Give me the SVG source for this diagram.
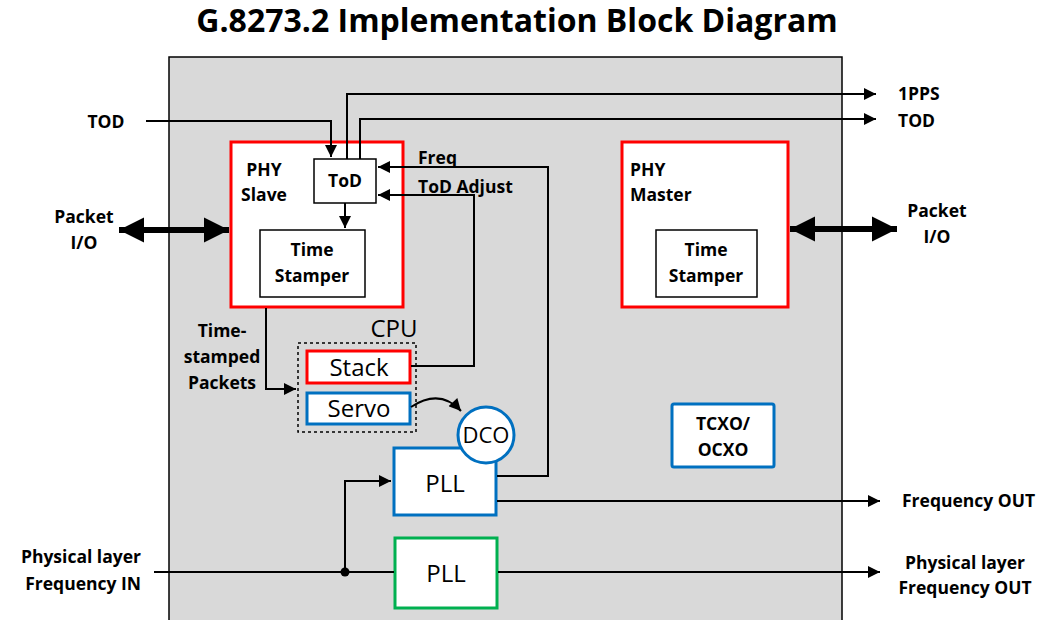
<svg xmlns="http://www.w3.org/2000/svg" width="1063" height="620" viewBox="0 0 1063 620">
<style>
.lbl{font-family:"Open Sans","Liberation Sans",sans-serif;font-weight:bold;font-size:17.5px;fill:#000}
.reg{font-family:"Open Sans","Liberation Sans",sans-serif;font-size:24px;fill:#000}
.ln{fill:none;stroke:#000;stroke-width:2}
.thick{fill:none;stroke:#000;stroke-width:6}
.red{fill:#fff;stroke:#ff0000;stroke-width:3}
.blue{fill:#fff;stroke:#0070c0;stroke-width:3}
.green{fill:#fff;stroke:#00b050;stroke-width:3}
.blk{fill:#fff;stroke:#000;stroke-width:1.5}
</style>
<defs>
<marker id="ah" viewBox="0 0 10 10" refX="10" refY="5" markerWidth="7.5" markerHeight="6" markerUnits="strokeWidth" orient="auto"><path d="M0,0 L10,5 L0,10 z" fill="#000"/></marker>
<marker id="big" viewBox="0 0 10 10" refX="10" refY="5" markerWidth="4.2" markerHeight="4.2" markerUnits="strokeWidth" orient="auto-start-reverse"><path d="M0,0 L10,5 L0,10 z" fill="#000"/></marker>
</defs>
<rect width="1063" height="620" fill="#fff"/>
<text x="517" y="32" text-anchor="middle" style="font-family:'Open Sans','Liberation Sans',sans-serif;font-weight:bold;font-size:32px">G.8273.2 Implementation Block Diagram</text>
<g id="chassis"><rect x="169" y="57" width="673" height="570" fill="#d9d9d9" stroke="#000" stroke-width="1.5"/></g>

<g id="phy-slave">
<rect class="red" x="231" y="142" width="172" height="165"/>
<text class="lbl" x="264" y="176" text-anchor="middle">PHY</text>
<text class="lbl" x="264" y="201" text-anchor="middle">Slave</text>
</g>
<g id="tod-block">
<rect class="blk" x="314" y="159" width="62" height="44"/>
<text class="lbl" x="345" y="187" text-anchor="middle">ToD</text>
</g>
<g id="ts-slave">
<rect class="blk" x="260" y="230" width="105" height="67"/>
<text class="lbl" x="312" y="256" text-anchor="middle">Time</text>
<text class="lbl" x="312" y="282" text-anchor="middle">Stamper</text>
</g>
<g id="phy-master">
<rect class="red" x="622" y="142" width="166" height="165"/>
<text class="lbl" x="630" y="176">PHY</text>
<text class="lbl" x="630" y="201">Master</text>
</g>
<g id="ts-master">
<rect class="blk" x="656" y="230" width="101" height="67"/>
<text class="lbl" x="706" y="256" text-anchor="middle">Time</text>
<text class="lbl" x="706" y="282" text-anchor="middle">Stamper</text>
</g>
<g id="cpu">
<rect x="298" y="343" width="118" height="89" fill="none" stroke="#000" stroke-width="1.5" stroke-dasharray="3,3"/>
<text class="reg" x="394" y="337" text-anchor="middle">CPU</text>
</g>
<g id="stack">
<rect class="red" x="307" y="351" width="103" height="32"/>
<text class="reg" x="359" y="376" text-anchor="middle">Stack</text>
</g>
<g id="servo">
<rect class="blue" x="307" y="393" width="103" height="31"/>
<text class="reg" x="359" y="417" text-anchor="middle">Servo</text>
</g>
<g id="pll-blue">
<rect class="blue" x="394" y="448" width="102" height="67"/>
<text class="reg" x="445" y="492" text-anchor="middle">PLL</text>
</g>
<g id="dco">
<circle class="blue" cx="486" cy="435" r="28"/>
<text class="reg" x="486" y="443" text-anchor="middle" style="font-size:22px">DCO</text>
</g>
<g id="pll-green">
<rect class="green" x="395" y="538" width="102" height="70"/>
<text class="reg" x="446" y="582" text-anchor="middle">PLL</text>
</g>
<g id="tcxo">
<rect class="blue" x="672" y="404" width="102" height="63" rx="2"/>
<text class="lbl" x="723" y="430" text-anchor="middle">TCXO/</text>
<text class="lbl" x="723" y="456" text-anchor="middle">OCXO</text>
</g>

<g id="connectors">
<polyline class="ln" points="146,121 331,121 331,157" marker-end="url(#ah)"/>
<polyline class="ln" points="347,159 347,94 876,94" marker-end="url(#ah)"/>
<polyline class="ln" points="360,159 360,119 876,119" marker-end="url(#ah)"/>
<polyline class="ln" points="497,476 548,476 548,167 378,167" marker-end="url(#ah)"/>
<polyline class="ln" points="411,366 474,366 474,195 378,195" marker-end="url(#ah)"/>
<line class="ln" x1="345" y1="203" x2="345" y2="228" marker-end="url(#ah)"/>
<polyline class="ln" points="266,308 266,389 296,389" marker-end="url(#ah)"/>
<path class="ln" d="M411,407 Q440,388 461,411" marker-end="url(#ah)"/>
<line class="ln" x1="154" y1="572" x2="394" y2="572"/>
<polyline class="ln" points="345,572 345,481 391,481" marker-end="url(#ah)"/>
<circle cx="345" cy="572" r="4.5" fill="#000"/>
<line class="ln" x1="497" y1="501" x2="880" y2="501" marker-end="url(#ah)"/>
<line class="ln" x1="498" y1="572" x2="880" y2="572" marker-end="url(#ah)"/>
<line class="thick" x1="119" y1="230" x2="229" y2="230" marker-start="url(#big)" marker-end="url(#big)"/>
<line class="thick" x1="790" y1="229" x2="897" y2="229" marker-start="url(#big)" marker-end="url(#big)"/>
</g>

<g id="labels">
<text class="lbl" x="106" y="128" text-anchor="middle">TOD</text>
<text class="lbl" x="84" y="223" text-anchor="middle">Packet</text>
<text class="lbl" x="84" y="249" text-anchor="middle">I/O</text>
<text class="lbl" x="418" y="164">Freq</text>
<text class="lbl" x="418" y="193">ToD Adjust</text>
<text class="lbl" x="222" y="337" text-anchor="middle">Time-</text>
<text class="lbl" x="222" y="363" text-anchor="middle">stamped</text>
<text class="lbl" x="222" y="389" text-anchor="middle">Packets</text>
<text class="lbl" x="898" y="100">1PPS</text>
<text class="lbl" x="898" y="127">TOD</text>
<text class="lbl" x="937" y="217" text-anchor="middle">Packet</text>
<text class="lbl" x="937" y="243" text-anchor="middle">I/O</text>
<text class="lbl" x="902" y="507">Frequency OUT</text>
<text class="lbl" x="965" y="569" text-anchor="middle">Physical layer</text>
<text class="lbl" x="965" y="594" text-anchor="middle">Frequency OUT</text>
<text class="lbl" x="141" y="563" text-anchor="end">Physical layer</text>
<text class="lbl" x="141" y="590" text-anchor="end">Frequency IN</text>
</g>
</svg>
